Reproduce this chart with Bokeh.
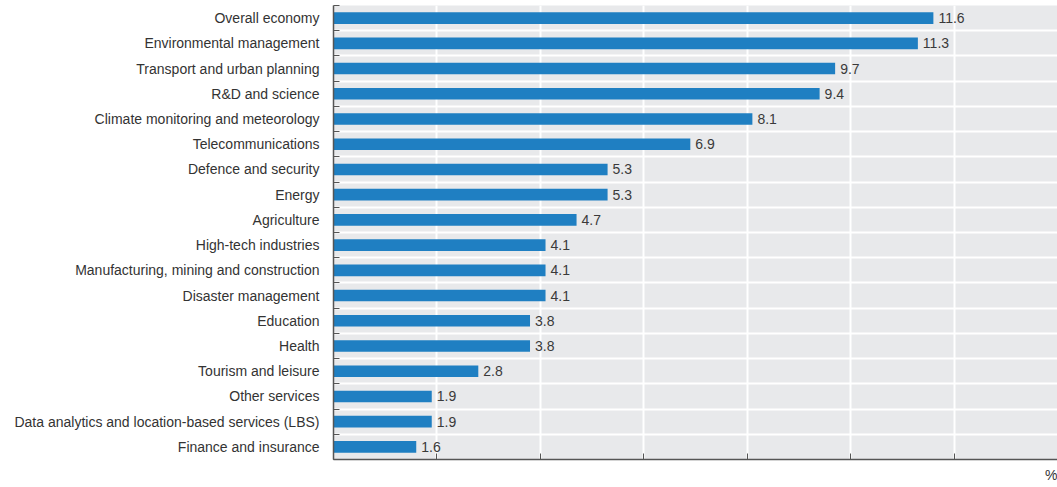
from bokeh.plotting import figure
from bokeh.models import ColumnDataSource, FixedTicker, Range1d, Title
from bokeh.embed import file_html
from bokeh.resources import INLINE
from bokeh.core.properties import value

categories = [
    "Overall economy",
    "Environmental management",
    "Transport and urban planning",
    "R&D and science",
    "Climate monitoring and meteorology",
    "Telecommunications",
    "Defence and security",
    "Energy",
    "Agriculture",
    "High-tech industries",
    "Manufacturing, mining and construction",
    "Disaster management",
    "Education",
    "Health",
    "Tourism and leisure",
    "Other services",
    "Data analytics and location-based services (LBS)",
    "Finance and insurance",
]
values = [11.6, 11.3, 9.7, 9.4, 8.1, 6.9, 5.3, 5.3, 4.7, 4.1, 4.1, 4.1, 3.8, 3.8, 2.8, 1.9, 1.9, 1.6]
x_ticks = [0, 2, 4, 6, 8, 10, 12]

n = len(categories)
ypos = list(range(n))
src = ColumnDataSource(dict(y=ypos, v=values, lab=[f"{v:.1f}" for v in values]))

FONT = "Liberation Sans Narrow, Arial Narrow, Liberation Sans"

p = figure(width=1057, height=487, output_backend="svg", toolbar_location=None,
           x_range=Range1d(0, 14.0), y_range=Range1d(n - 0.5, -0.5),
           min_border_left=333, min_border_right=0, min_border_top=5, min_border_bottom=8)
p.background_fill_color = "#e8e9eb"
p.border_fill_color = "white"
p.outline_line_color = None

p.hbar(y="y", right="v", left=0, height=0.46, source=src, color="#1f7fc2", line_color=None)
p.text(x="v", y="y", text="lab", source=src, x_offset=5, text_baseline="middle", text_align="left",
       text_font=value(FONT), text_font_size="14px", text_color="#3a3a3a")

# y axis
p.yaxis.ticker = FixedTicker(ticks=ypos, minor_ticks=[i - 0.5 for i in range(n + 1)])
p.yaxis.major_label_overrides = {i: c for i, c in enumerate(categories)}
p.yaxis.major_tick_line_color = None
p.yaxis.minor_tick_in = 6
p.yaxis.minor_tick_out = 0
p.yaxis.minor_tick_line_color = "#555555"
p.yaxis.axis_line_color = "#555555"
p.yaxis.axis_line_width = 1.5
p.yaxis.major_label_standoff = 8
p.yaxis.major_label_text_font = FONT
p.yaxis.major_label_text_font_size = "14px"
p.yaxis.major_label_text_color = "#333333"

# x axis (ticks without labels)
p.xaxis.ticker = FixedTicker(ticks=x_ticks)
p.xaxis.major_label_overrides = {t: "" for t in x_ticks}
p.xaxis.major_tick_in = 6
p.xaxis.major_tick_out = 0
p.xaxis.minor_tick_line_color = None
p.xaxis.major_tick_line_color = "#555555"
p.xaxis.axis_line_color = "#555555"
p.xaxis.axis_line_width = 1.5
p.xaxis.major_label_standoff = 0

# grids
p.xgrid.ticker = FixedTicker(ticks=x_ticks[1:])
p.xgrid.grid_line_color = "white"
p.xgrid.grid_line_width = 2
p.ygrid.ticker = FixedTicker(ticks=[i + 0.5 for i in range(n - 1)])
p.ygrid.grid_line_color = "white"
p.ygrid.grid_line_width = 2

p.add_layout(Title(text="%", align="right", text_font=FONT, text_font_size="14px",
                   text_color="#333333", text_font_style="normal"), "below")

open("out.html", "w").write(file_html(p, INLINE))
